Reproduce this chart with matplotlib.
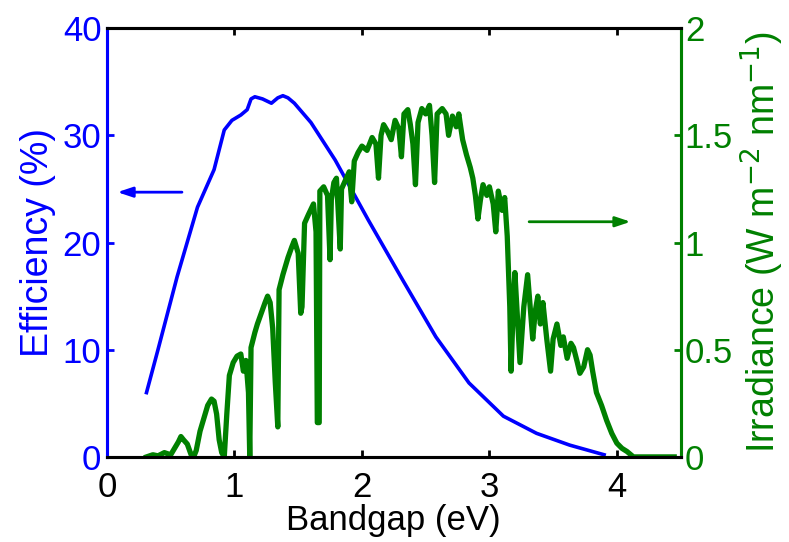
import matplotlib
matplotlib.use('Agg')
import numpy as np
from matplotlib import pyplot as plt

plt.rcParams['font.family'] = ['Liberation Sans', 'DejaVu Sans']

# efficiency (blue, left axis)
eff_ev = [0.31, 0.40, 0.55, 0.71, 0.84, 0.92, 0.98, 1.05, 1.10, 1.13, 1.16, 1.22,
          1.29, 1.34, 1.38, 1.42, 1.47, 1.60, 1.79, 2.05, 2.32, 2.58, 2.84, 3.11,
          3.37, 3.63, 3.90]
eff_pct = [6.0, 10.0, 16.8, 23.3, 26.8, 30.5, 31.4, 31.9, 32.4, 33.4, 33.6, 33.4,
           33.0, 33.5, 33.7, 33.5, 33.0, 31.2, 27.7, 22.1, 16.5, 11.2, 6.9, 3.8,
           2.2, 1.1, 0.2]

# irradiance spectrum (green, right axis)
irr_ev = [0.31, 0.36, 0.40, 0.45, 0.50, 0.53, 0.56, 0.58, 0.60, 0.63, 0.66, 0.68,
          0.70, 0.73, 0.76, 0.79, 0.82, 0.84, 0.86, 0.88, 0.90, 0.92, 0.94, 0.96,
          0.99, 1.02, 1.05, 1.07, 1.09, 1.11, 1.12, 1.13, 1.16, 1.18, 1.21, 1.24,
          1.26, 1.28, 1.30, 1.32, 1.34, 1.35, 1.38, 1.42, 1.45, 1.47, 1.50, 1.52,
          1.53, 1.55, 1.58, 1.62, 1.64, 1.65, 1.665, 1.67, 1.70, 1.73, 1.75, 1.76,
          1.78, 1.80, 1.83, 1.84, 1.87, 1.90, 1.92, 1.94, 1.97, 2.00, 2.04, 2.08,
          2.11, 2.13, 2.15, 2.17, 2.20, 2.23, 2.26, 2.29, 2.31, 2.33, 2.36, 2.38,
          2.40, 2.42, 2.44, 2.47, 2.50, 2.53, 2.55, 2.57, 2.59, 2.63, 2.66, 2.68,
          2.71, 2.74, 2.76, 2.79, 2.82, 2.85, 2.87, 2.89, 2.91, 2.93, 2.95, 2.98,
          3.00, 3.03, 3.05, 3.07, 3.10, 3.12, 3.14, 3.16, 3.17, 3.19, 3.20, 3.22,
          3.24, 3.27, 3.30, 3.32, 3.34, 3.36, 3.38, 3.40, 3.42, 3.45, 3.48, 3.50,
          3.53, 3.56, 3.58, 3.61, 3.64, 3.66, 3.69, 3.71, 3.74, 3.77, 3.79, 3.81,
          3.84, 3.88, 3.92, 3.96, 4.00, 4.04, 4.08, 4.13, 4.45]
irr_val = [0.0, 0.01, 0.005, 0.02, 0.01, 0.04, 0.07, 0.095, 0.08, 0.06, 0.01, 0.0,
           0.03, 0.12, 0.18, 0.24, 0.27, 0.26, 0.20, 0.08, 0.02, 0.0, 0.20, 0.38,
           0.44, 0.47, 0.48, 0.40, 0.45, 0.30, 0.0, 0.51, 0.58, 0.62, 0.67, 0.72,
           0.75, 0.72, 0.60, 0.35, 0.14, 0.78, 0.85, 0.93, 0.98, 1.01, 0.95, 0.67,
           0.70, 1.09, 1.13, 1.18, 1.05, 0.16, 0.16, 1.24, 1.26, 1.22, 0.92, 1.20,
           1.28, 1.30, 0.97, 1.25, 1.29, 1.33, 1.19, 1.38, 1.42, 1.45, 1.43, 1.49,
           1.46, 1.30, 1.50, 1.55, 1.52, 1.48, 1.57, 1.53, 1.40, 1.60, 1.62, 1.55,
           1.46, 1.27, 1.56, 1.625, 1.60, 1.64, 1.50, 1.28, 1.60, 1.625, 1.60, 1.50,
           1.59, 1.54, 1.60, 1.48, 1.41, 1.35, 1.30, 1.22, 1.11, 1.20, 1.27, 1.22,
           1.26, 1.18, 1.05, 1.24, 1.15, 1.21, 1.03, 0.70, 0.40, 0.75, 0.86, 0.65,
           0.44, 0.70, 0.85, 0.70, 0.55, 0.68, 0.75, 0.62, 0.72, 0.55, 0.40, 0.55,
           0.62, 0.52, 0.56, 0.46, 0.53, 0.51, 0.44, 0.39, 0.42, 0.50, 0.475, 0.40,
           0.30, 0.24, 0.17, 0.11, 0.064, 0.04, 0.025, 0.0, 0.0]

xticks = [0, 1, 2, 3, 4]
left_ticks = [0, 10, 20, 30, 40]
right_ticks = [0, 0.5, 1, 1.5, 2]
right_ticklabels = ['0', '0.5', '1', '1.5', '2']

blue = '#0000ff'
green = '#008000'
fs = 25
fs_y = 27

fig = plt.figure(figsize=(7.89, 5.42), dpi=100)
ax = fig.add_axes([0.1356, 0.157, 0.727, 0.791])
ax2 = ax.twinx()

ax.plot(eff_ev, eff_pct, color=blue, lw=2.6)
ax2.plot(irr_ev, irr_val, color=green, lw=3.8)

ax.set_xlim(0, 4.5)
ax.set_ylim(0, 40)
ax2.set_ylim(0, 2)
ax.set_xticks(xticks)
ax.set_yticks(left_ticks)
ax2.set_yticks(right_ticks)
ax2.set_yticklabels(right_ticklabels)

ax.tick_params(axis='x', direction='in', top=True, length=5, width=2, labelsize=fs, pad=10)
ax.tick_params(axis='y', direction='in', colors=blue, length=5, width=2, labelsize=fs, pad=4)
ax2.tick_params(axis='y', direction='in', colors=green, length=5, width=2, labelsize=fs, pad=3)

for a in (ax, ax2):
    for s in a.spines.values():
        s.set_linewidth(2.2)
    a.spines['top'].set_color('black')
    a.spines['bottom'].set_color('black')
    a.spines['left'].set_color(blue)
    a.spines['right'].set_color(green)

ax.set_xlabel('Bandgap (eV)', fontsize=fs, labelpad=0)
ax.set_ylabel('Efficiency (%)', fontsize=fs_y, color=blue, labelpad=5)
ax2.set_ylabel('Irradiance (W m$^{-2}$ nm$^{-1}$)', fontsize=fs_y, color=green, labelpad=4)

ax.annotate('', xy=(0.06, 24.7), xytext=(0.61, 24.7),
            arrowprops=dict(arrowstyle='-|>,head_length=0.9,head_width=0.3', color=blue, lw=2))
ax2.annotate('', xy=(4.13, 1.097), xytext=(3.29, 1.097),
             arrowprops=dict(arrowstyle='-|>,head_length=0.9,head_width=0.3', color=green, lw=2))

fig.savefig('out.png', dpi=100)
